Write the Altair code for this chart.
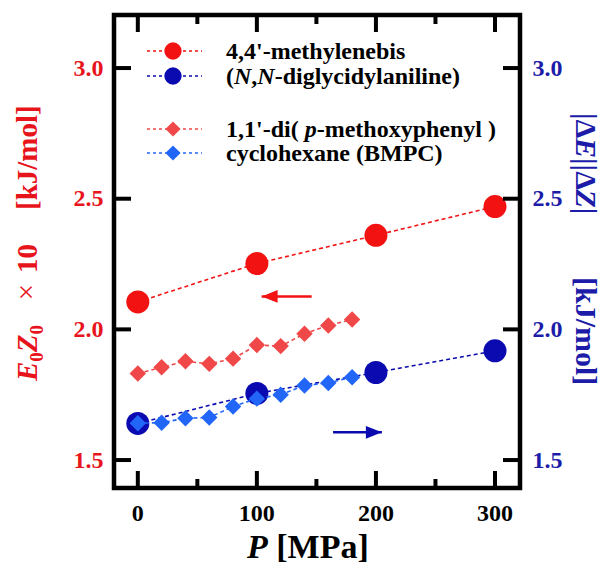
import altair as alt
import pandas as pd

# ---------------- data ----------------
P_circle = [0, 100, 200, 300]
E0Z0_circle = [2.105, 2.252, 2.360, 2.470]      # red circles, left axis
dEdZ_circle = [1.640, 1.755, 1.835, 1.918]      # blue circles, right axis

P_diamond = [0, 20, 40, 60, 80, 100, 120, 140, 160, 180]
E0Z0_diamond = [1.831, 1.855, 1.878, 1.868, 1.888, 1.940, 1.936, 1.983, 2.015, 2.038]
dEdZ_diamond = [1.641, 1.643, 1.660, 1.663, 1.705, 1.735, 1.750, 1.785, 1.795, 1.817]

y_ticks = [1.5, 2.0, 2.5, 3.0]
x_major = [0, 100, 200, 300]
x_major_labels = ["0", "100", "200", "300"]
x_minor = [50, 150, 250]

arrow_y = [2.126, 1.606]
arrow_tail = [146, 164]
arrow_head = [104, 205]

legend_rows = ["4,4'-methylenebis", "(N,N-diglycidylaniline)",
               "1,1'-di( p-methoxyphenyl )", "cyclohexane (BMPC)"]

# ---------------- style ----------------
RED = "#f21212"
RED_D = "#f04848"
BLUE = "#0a0ab0"
BLUE_D = "#2266f8"
LABEL_RED = "#e8141c"
LABEL_BLUE = "#1c1ca8"
FONT = "Liberation Serif"

W, H = 406, 473
XDOM = [-20, 321]
YDOM = [1.393, 3.203]
xs = alt.Scale(domain=XDOM, nice=False, zero=False)
ys = alt.Scale(domain=YDOM, nice=False, zero=False)

PX = (YDOM[1] - YDOM[0]) / H     # y units per pixel
PXX = (XDOM[1] - XDOM[0]) / W    # x units per pixel
MAJ, MIN = 17, 9

one = alt.Chart(pd.DataFrame({"k": [0]}))


def txt(s, x, y, size, color="black", italic=False, angle=0, align="left",
        weight="bold", baseline="alphabetic"):
    kw = dict(text=s, font=FONT, fontSize=size, fontWeight=weight, color=color,
              align=align, baseline=baseline)
    if italic:
        kw["fontStyle"] = "italic"
    if angle:
        kw["angle"] = angle
    return one.mark_text(**kw).encode(x=alt.value(x), y=alt.value(y))


def series(P, V, color, shape, size):
    df = pd.DataFrame({"P": P, "V": V})
    enc = dict(x=alt.X("P:Q", scale=xs, axis=None),
               y=alt.Y("V:Q", scale=ys, axis=None))
    line = alt.Chart(df).mark_line(color=color, strokeWidth=1.6,
                                   strokeDash=[4, 3]).encode(**enc)
    pts = alt.Chart(df).mark_point(shape=shape, filled=True, size=size,
                                   color=color, opacity=1, strokeWidth=0).encode(**enc)
    return [line, pts]


layers = []

# ---------------- y tick labels only (left red, right blue) ----------------
ydf = pd.DataFrame({"y": y_ticks})
layers.append(alt.Chart(ydf).mark_point(opacity=0, size=1).encode(
    y=alt.Y("y:Q", scale=ys, title=None,
            axis=alt.Axis(orient="left", values=y_ticks, format=".1f",
                          labelColor=LABEL_RED, labelPadding=11)),
    x=alt.value(0)))
layers.append(alt.Chart(ydf).mark_point(opacity=0, size=1).encode(
    y=alt.Y("y:Q", scale=ys, title=None,
            axis=alt.Axis(orient="right", values=y_ticks, format=".1f",
                          labelColor=LABEL_BLUE, labelPadding=12)),
    x=alt.value(W)))

# ---------------- x tick labels ----------------
xl = pd.DataFrame({"xp": x_major, "lab": x_major_labels,
                   "yl": [YDOM[0] - 33 * PX] * len(x_major)})
layers.append(alt.Chart(xl).mark_text(font=FONT, fontWeight="bold", fontSize=24,
                                      color="black", align="center",
                                      baseline="alphabetic").encode(
    x=alt.X("xp:Q", scale=xs, axis=None),
    y=alt.Y("yl:Q", scale=ys, axis=None),
    text="lab:N"))

# ---------------- data series ----------------
layers += series(P_diamond, E0Z0_diamond, RED_D, "diamond", 270)
layers += series(P_circle, E0Z0_circle, RED, "circle", 530)
layers += series(P_circle, dEdZ_circle, BLUE, "circle", 530)
layers += series(P_diamond, dEdZ_diamond, BLUE_D, "diamond", 270)

# ---------------- arrows ----------------
for yv, xt, xh, col, path in [
        (arrow_y[0], arrow_tail[0], arrow_head[0], RED, "M0,0L2,-0.8L2,0.8Z"),
        (arrow_y[1], arrow_tail[1], arrow_head[1], BLUE, "M0,0L-2,-0.8L-2,0.8Z")]:
    adf = pd.DataFrame({"xt": [xt], "xh": [xh], "y": [yv]})
    layers.append(alt.Chart(adf).mark_rule(color=col, strokeWidth=2.5).encode(
        x=alt.X("xt:Q", scale=xs, axis=None), x2="xh:Q",
        y=alt.Y("y:Q", scale=ys, axis=None)))
    layers.append(alt.Chart(adf).mark_point(shape=path, filled=True, size=256,
                                            color=col, opacity=1, strokeWidth=0).encode(
        x=alt.X("xh:Q", scale=xs, axis=None),
        y=alt.Y("y:Q", scale=ys, axis=None)))

# ---------------- legend (drawn inside the frame) ----------------
rows_y = [36, 61, 114, 138]
leg = [(RED, "circle", 300), (BLUE, "circle", 300),
       (RED_D, "diamond", 230), (BLUE_D, "diamond", 230)]
for ry, (col, shp, sz) in zip(rows_y, leg):
    layers.append(one.mark_rule(color=col, strokeWidth=1.5, strokeDash=[3, 3]).encode(
        x=alt.value(33), x2=alt.value(88), y=alt.value(ry)))
    layers.append(one.mark_point(shape=shp, filled=True, size=sz, color=col,
                                 opacity=1, strokeWidth=0).encode(
        x=alt.value(59), y=alt.value(ry)))

LF = 24
TX = 112
DY = 8
layers.append(txt(legend_rows[0], TX, rows_y[0] + DY, LF))
x0 = TX
layers.append(txt("(", x0, rows_y[1] + DY, LF))
layers.append(txt("N", x0 + 0.333 * LF, rows_y[1] + DY, LF, italic=True))
layers.append(txt(",", x0 + 1.055 * LF, rows_y[1] + DY, LF))
layers.append(txt("N", x0 + 1.305 * LF, rows_y[1] + DY, LF, italic=True))
layers.append(txt("-diglycidylaniline)", x0 + 2.027 * LF, rows_y[1] + DY, LF))
layers.append(txt("1,1'-di( ", x0, rows_y[2] + DY, LF))
layers.append(txt("p", x0 + 3.278 * LF, rows_y[2] + DY, LF, italic=True))
layers.append(txt("-methoxyphenyl )", x0 + 3.778 * LF, rows_y[2] + DY, LF))
layers.append(txt(legend_rows[3], TX, rows_y[3] + DY, LF))

# ---------------- axis titles ----------------
XF = 34
layers.append(txt("P", 133, 543, XF, italic=True))
layers.append(txt("[MPa]", 133 + 0.861 * XF, 543, XF))

# left title: E0Z0 x 10 [kJ/mol] (rotated, reading upward)
LTF = 29
bx = -77
yy = 366
layers.append(txt("E", bx, yy, LTF, color=LABEL_RED, italic=True, angle=270))
yy -= 0.667 * LTF
layers.append(txt("0", bx + 6, yy, 19, color=LABEL_RED, angle=270))
yy -= 0.5 * 19
layers.append(txt("Z", bx, yy, LTF, color=LABEL_RED, italic=True, angle=270))
yy -= 0.611 * LTF
layers.append(txt("0", bx + 6, yy, 19, color=LABEL_RED, angle=270))
layers.append(txt("×", bx - 1, 277, LTF, color=LABEL_RED, angle=270,
                  align="center", weight="normal"))
layers.append(txt("10", bx, 258, LTF, color=LABEL_RED, angle=270))
layers.append(txt("[kJ/mol]", bx, 195, LTF, color=LABEL_RED, angle=270))

# right title: |ΔE||ΔZ|   [kJ/mol] (rotated, reading downward)
RTF = 30
rx = 462
yy = 98
layers.append(txt("|Δ", rx, yy, RTF, color=LABEL_BLUE, angle=90))
yy += (0.22 + 0.612) * RTF
layers.append(txt("E", rx, yy, RTF, color=LABEL_BLUE, italic=True, angle=90))
yy += 0.667 * RTF
layers.append(txt("||Δ", rx, yy, RTF, color=LABEL_BLUE, angle=90))
yy += (0.44 + 0.612) * RTF
layers.append(txt("Z", rx, yy, RTF, color=LABEL_BLUE, italic=True, angle=90))
yy += 0.611 * RTF
layers.append(txt("|", rx, yy, RTF, color=LABEL_BLUE, angle=90))
layers.append(txt("[kJ/mol]", rx, 262, RTF, color=LABEL_BLUE, angle=90))

# ---------------- all inward ticks as segments, drawn last (on top) ----------------
tx0, tx1, ty0, ty1 = [], [], [], []
for v in y_ticks:
    tx0 += [XDOM[0], XDOM[1]]
    tx1 += [XDOM[0] + MAJ * PXX, XDOM[1] - MAJ * PXX]
    ty0 += [v, v]
    ty1 += [v, v]
for vals, ln in [(x_major, MAJ), (x_minor, MIN)]:
    for v in vals:
        tx0 += [v, v]
        tx1 += [v, v]
        ty0 += [YDOM[0] + 1 * PX, YDOM[1] - 1 * PX]
        ty1 += [YDOM[0] + ln * PX, YDOM[1] - ln * PX]
ticks_df = pd.DataFrame({"tx0": tx0, "tx1": tx1, "ty0": ty0, "ty1": ty1})
layers.append(alt.Chart(ticks_df).mark_rule(color="black", strokeWidth=4).encode(
    x=alt.X("tx0:Q", scale=xs, axis=None), x2="tx1:Q",
    y=alt.Y("ty0:Q", scale=ys, axis=None), y2="ty1:Q"))

chart = alt.layer(*layers).properties(
    width=W, height=H,
    autosize=alt.AutoSizeParams(type="none"),
    padding={"left": 106, "top": 7, "right": 85, "bottom": 76},
).configure_view(stroke="black", strokeWidth=4.5).configure_axis(
    domain=False, ticks=False, tickSize=0, grid=False,
    labelFont=FONT, labelFontWeight="bold", labelFontSize=24,
)

chart.save("out.html", embed_options={"renderer": "svg", "actions": False})
